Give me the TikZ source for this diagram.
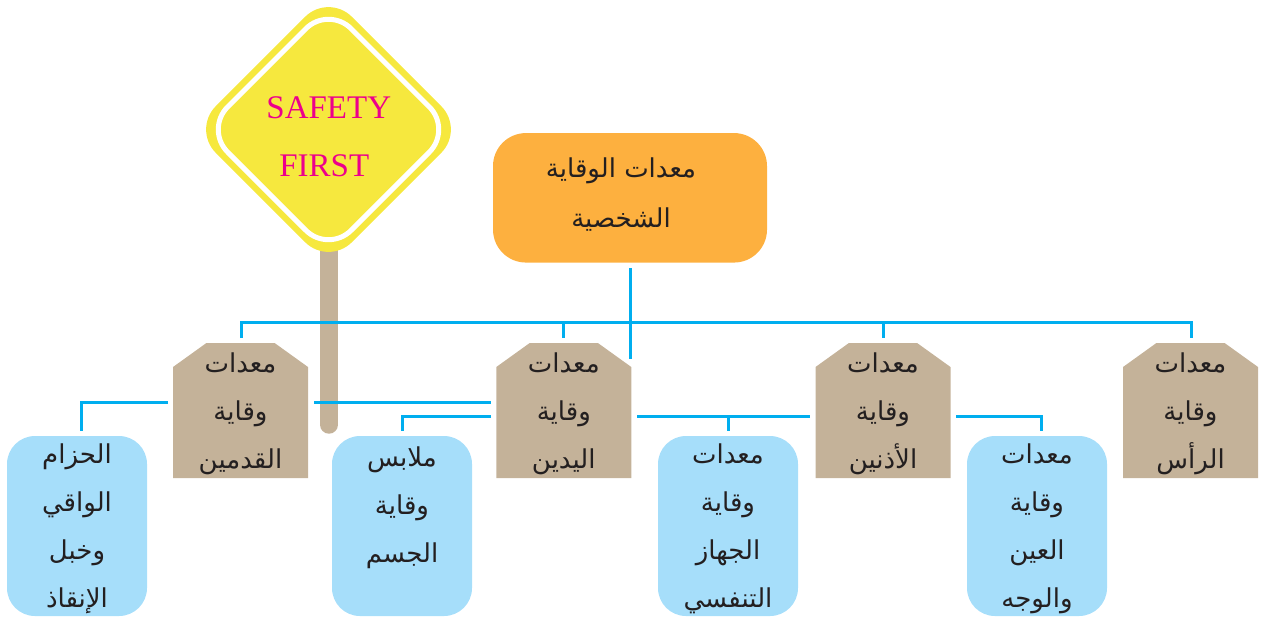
\documentclass[tikz,border=0pt]{standalone}
\usepackage{fontspec}
\setmainfont{Liberation Serif}
\newfontfamily\arabicfont[Script=Arabic]{DejaVu Sans}
\TeXXeTstate=1
\definecolor{wirecol}{HTML}{00AEEF}
\definecolor{tagcol}{HTML}{C4B299}
\definecolor{skycol}{HTML}{A6DEFA}
\definecolor{rootcol}{HTML}{FDB03F}
\definecolor{signcol}{HTML}{F6E83E}
\definecolor{pinkcol}{HTML}{EC008C}
\definecolor{inkcol}{HTML}{231F20}
\newcommand{\rl}[1]{\beginR #1\endR\strut}
\tikzset{
  x=0.5pt,y=-0.5pt,
  wire/.style={draw=wirecol,line width=1.5pt},
  tagbox/.style={rectangle,inner sep=0pt,minimum width=67.5pt,minimum height=67.5pt,
    path picture={\fill[tagcol]
      ([yshift=-12pt]path picture bounding box.north west) --
      ([xshift=16.7pt]path picture bounding box.north west) --
      ([xshift=-16.7pt]path picture bounding box.north east) --
      ([yshift=-12pt]path picture bounding box.north east) --
      (path picture bounding box.south east) --
      (path picture bounding box.south west) -- cycle;}},
  skybox/.style={rectangle,rounded corners=14pt,fill=skycol,inner sep=0pt,minimum width=70pt,minimum height=90pt},
  rootbox/.style={rectangle,rounded corners=16.5pt,fill=rootcol,inner sep=0pt,minimum width=137pt,minimum height=64.75pt},
  artext/.style={align=center,text=inkcol,inner sep=0pt,font=\arabicfont\fontsize{13}{24}\selectfont},
  signouter/.style={rectangle,rotate=45,fill=signcol,inner sep=0pt,minimum size=96.2pt,rounded corners=16.5pt},
  signinner/.style={rectangle,rotate=45,fill=signcol,draw=white,line width=2.5pt,inner sep=0pt,minimum size=87.3pt,rounded corners=16pt},
  signtext/.style={text=pinkcol,inner sep=0pt,font=\fontsize{16.5}{18}\selectfont},
}
\begin{document}
\begin{tikzpicture}
\useasboundingbox (0,0) rectangle (1263,618);
% post and sign
\draw[tagcol,line width=9pt,line cap=round] (329,245) -- (329,424.7);
\node[signouter] (signo) at (328.5,129.5) {};
\node[signinner] (signi) at (328.5,129.5) {};
\node[signtext] (safety) at (328.8,107.7) {SAFETY};
\node[signtext] (first) at (324.3,165.8) {FIRST};
% shapes
\node[rootbox] (root) at (630,197.8) {};
\node[tagbox] (feet) at (240.5,410.5) {};
\node[tagbox] (hands) at (563.8,410.5) {};
\node[tagbox] (ears) at (883,410.5) {};
\node[tagbox] (head) at (1190.5,410.5) {};
\node[skybox] (harness) at (77,526) {};
\node[skybox] (body) at (402,526) {};
\node[skybox] (resp) at (728,526) {};
\node[skybox] (eye) at (1037,526) {};
% free ends of the connectors
\coordinate (stemtop) at (630.5,268);
\coordinate (stembot) at (630.5,359);
\coordinate (busl) at (241,322);
\coordinate (busr) at (1191,322);
\coordinate (busm1) at (563.7,322);
\coordinate (busm2) at (883,322);
\coordinate (dfeet) at (241,338);
\coordinate (dhands) at (563.7,338);
\coordinate (dears) at (883,338);
\coordinate (dhead) at (1191,338);
\coordinate (a1) at (168,402);
\coordinate (a2) at (81,402);
\coordinate (a3) at (81,431);
\coordinate (b1) at (314,402);
\coordinate (b2) at (491,402);
\coordinate (c1) at (491,416);
\coordinate (c2) at (402.3,416);
\coordinate (c3) at (402.3,431);
\coordinate (d1) at (637,416);
\coordinate (d2) at (810,416);
\coordinate (dm) at (728,416);
\coordinate (d3) at (728,431);
\coordinate (e1) at (956,416);
\coordinate (e2) at (1041,416);
\coordinate (e3) at (1041,431);
% connectors
\draw[wire] (stemtop) -- (stembot);
\draw[wire] (dfeet) -- (busl) -- (busr) -- (dhead);
\draw[wire] (busm1) -- (dhands);
\draw[wire] (busm2) -- (dears);
\draw[wire] (a1) -- (a2) -- (a3);
\draw[wire] (b1) -- (b2);
\draw[wire] (c1) -- (c2) -- (c3);
\draw[wire] (d1) -- (d2);
\draw[wire] (dm) -- (d3);
\draw[wire] (e1) -- (e2) -- (e3);
% texts
\node[artext,font=\arabicfont\fontsize{13}{25}\selectfont] (roottext) at (621,192) {\rl{معدات الوقاية}\\\rl{الشخصية}};
\node[artext] (feettext) at (feet.center) {\rl{معدات}\\\rl{وقاية}\\\rl{القدمين}};
\node[artext] (handstext) at (hands.center) {\rl{معدات}\\\rl{وقاية}\\\rl{اليدين}};
\node[artext] (earstext) at (ears.center) {\rl{معدات}\\\rl{وقاية}\\\rl{الأذنين}};
\node[artext] (headtext) at (head.center) {\rl{معدات}\\\rl{وقاية}\\\rl{الرأس}};
\node[artext] (harnesstext) at (harness.center) {\rl{الحزام}\\\rl{الواقي}\\\rl{وخبل}\\\rl{الإنقاذ}};
\node[artext] (bodytext) at (402,505) {\rl{ملابس}\\\rl{وقاية}\\\rl{الجسم}};
\node[artext] (resptext) at (resp.center) {\rl{معدات}\\\rl{وقاية}\\\rl{الجهاز}\\\rl{التنفسي}};
\node[artext] (eyetext) at (eye.center) {\rl{معدات}\\\rl{وقاية}\\\rl{العين}\\\rl{والوجه}};
\end{tikzpicture}
\end{document}
